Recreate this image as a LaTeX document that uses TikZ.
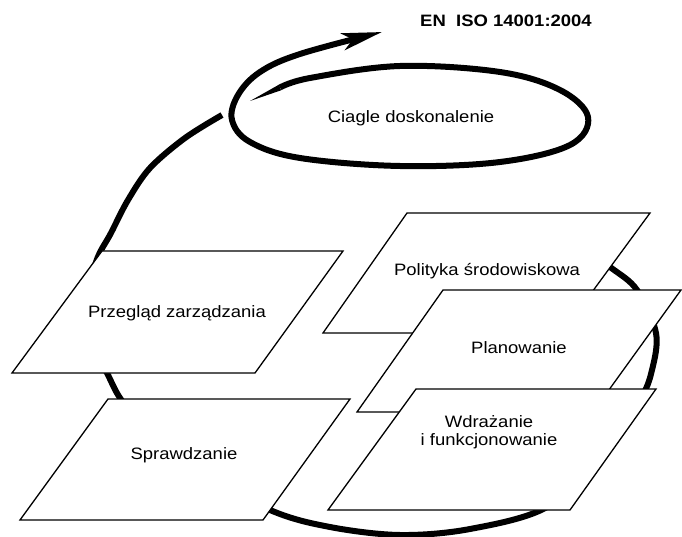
\documentclass[tikz,border=0pt]{standalone}
\usepackage{fontspec}
\setmainfont{Liberation Sans}[FakeStretch=1.12]
\usetikzlibrary{arrows.meta}
\begin{document}
\begin{tikzpicture}[x=1pt,y=-1pt,
  box/.style={draw=black,fill=white,line width=1.3pt,line join=miter},
  lbl/.style={font=\fontsize{16.5}{18.5}\selectfont,align=center,inner sep=0pt},
  loopline/.style={line width=6pt,line cap=butt,line join=round}]
\useasboundingbox (0,0) rectangle (682,537);
% big loop (drawn first, partly hidden by the boxes)
\draw[loopline] plot[smooth,tension=0.55] coordinates {(560,232) (610,267) (637,290) (656,333) (652,370) (640,400) (603,453) (547,507) (470,529) (400,535) (330,527) (270,510) (185,465) (145,430) (120,398) (107,373) (92,345) (86,310) (96,262) (111,233) (128,200) (150,168) (185,138) (222,115)};
% small loop with arrow, tapered start
\fill (250,101) -- (278.9,84.7) -- (281.1,90.3) -- cycle;
\draw[loopline,-{Stealth[length=40pt,width=17pt,inset=10pt]}] plot[smooth,tension=0.6] coordinates {(280,87.5) (310,78) (400,66) (500,72) (560,90) (588,117) (570,145) (500,162) (400,166) (300,158) (250,142) (232,120) (238,95) (260,72) (300,54) (382,32)};
% boxes
\draw[box] (102,251) -- (343,251) -- (255,373) -- (12,373) -- cycle;
\draw[box] (108,399) -- (350,399) -- (263,520) -- (20,520) -- cycle;
\draw[box] (407,213) -- (650,213) -- (562,333) -- (323,333) -- cycle;
\draw[box] (443,290) -- (681,290) -- (593,412) -- (357,412) -- cycle;
\draw[box] (416,389) -- (656,389) -- (570,510) -- (328,510) -- cycle;
% labels
\node[lbl,anchor=base] (iso) at (506,27) {\bfseries EN\ \ ISO 14001:2004};
\node[lbl,anchor=base] (cd) at (411,123) {Ciagle doskonalenie};
\node[lbl,anchor=base] (pz) at (177,317) {Przegląd zarządzania};
\node[lbl,anchor=base] (ps) at (487,275) {Polityka środowiskowa};
\node[lbl,anchor=base] (pl) at (519,353) {Planowanie};
\node[lbl,anchor=base] (sp) at (184,459) {Sprawdzanie};
\node[lbl] (wf) at (489,432) {Wdrażanie\\i funkcjonowanie};
\end{tikzpicture}
\end{document}
